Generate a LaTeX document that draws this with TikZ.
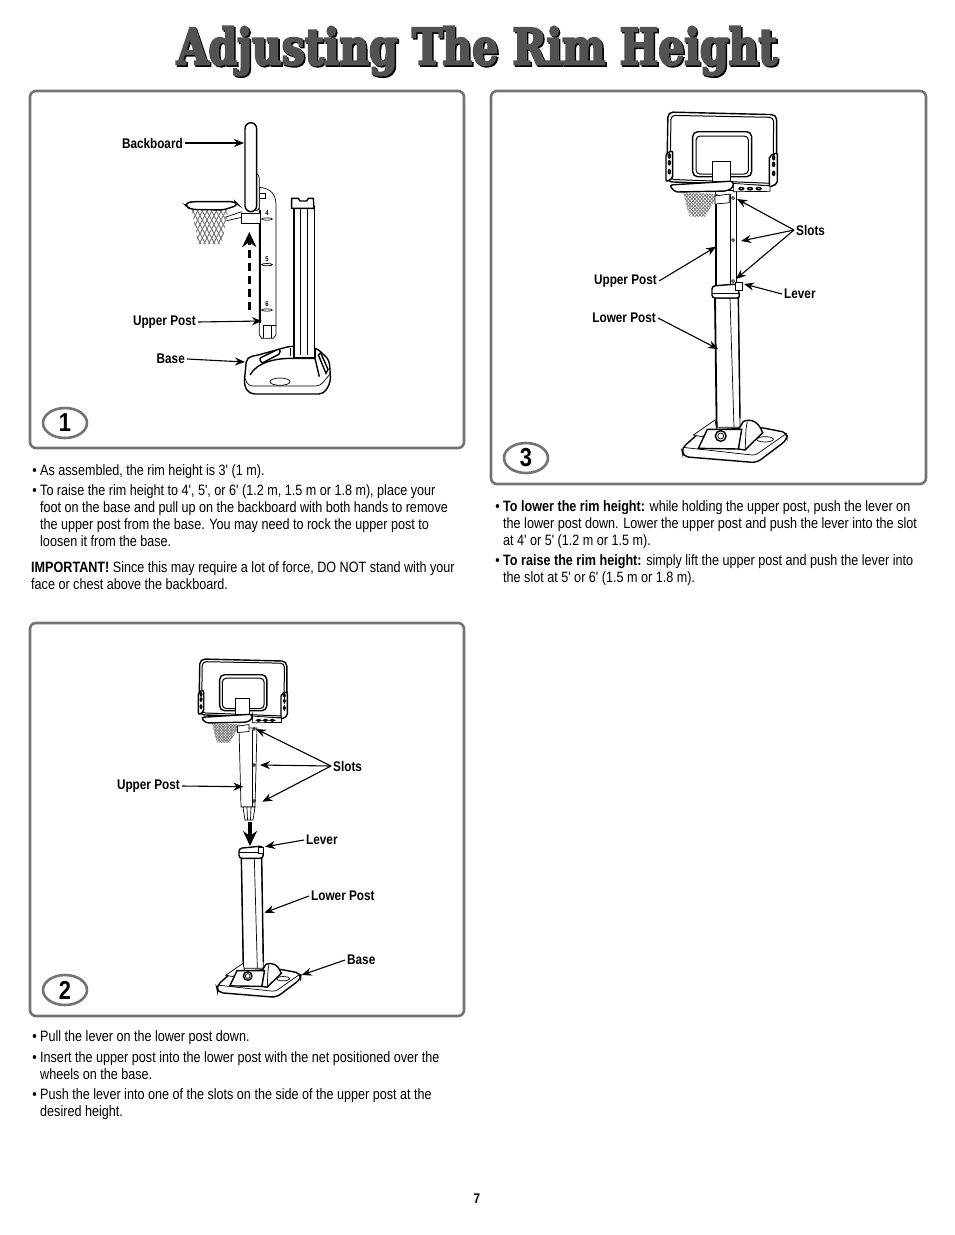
\documentclass[tikz,border=0pt]{standalone}
\usepackage{fontspec}
\usetikzlibrary{arrows.meta,shapes.geometric}
\setmainfont[FakeStretch=0.84,Ligatures=TeXOff]{Liberation Sans}
\newfontfamily\titlefont[FakeStretch=0.819,FakeBold=4]{DejaVu Serif Bold}
\newcommand{\bodysize}{\fontsize{15}{17}\selectfont}
\newcommand{\bul}{\llap{\textbullet\ }}

\tikzset{
    pen/.style={line width=0.7pt, black},
    heavy/.style={line width=1.4pt, black},
    netline/.style={line width=0.7pt, black!55},
    panel/.style={line width=2.6pt, black!55, rounded corners=6pt},
    callout/.style={line width=1.1pt, -{Stealth[length=10pt,width=8pt]}},
    bigarrow/.style={line width=3.4pt, -{Stealth[length=15pt,width=14pt]}},
    partlabel/.style={font=\bfseries\fontsize{14}{15}\selectfont, inner sep=2pt},
    bodytext/.style={anchor=north west, align=left, inner sep=0pt, font=\bodysize},
    stepnum/.style={ellipse, draw=black!55, line width=2.6pt, minimum width=44pt, minimum height=30pt,
        inner sep=0pt, font=\bfseries\fontsize{26}{26}\selectfont},
    pics/hoopfront/.style={code={
        \begin{scope}[shift={(-213,-215)}]
            % net
            \begin{scope}
                \clip (100,278) -- (205,282) -- (165,350) -- (118,350) -- cycle;
                \foreach \k in {60,70,...,300} {
                    \draw[netline] (\k,270) -- (\k+80,355);
                    \draw[netline] (\k,270) -- (\k-80,355);
                }
            \end{scope}
            % backboard
            \draw[heavy, fill=white, rounded corners=5pt] (54,36) -- (380,44) -- (380,258) -- (50,245) -- cycle;
            \draw[pen, line width=1pt, rounded corners=4pt] (63,46) -- (371,52) -- (369,250) -- (60,238) -- cycle;
            \draw[heavy, rounded corners=5pt] (128,95) rectangle (305,230);
            \draw[pen, line width=1pt, rounded corners=4pt] (138,108) rectangle (295,222);
            % side brackets
            \draw[heavy, fill=white, rounded corners=2pt] (48,160) -- (68,152) -- (68,235) -- (48,245) -- cycle;
            \draw[heavy, fill=white, rounded corners=2pt] (358,168) -- (382,158) -- (382,250) -- (358,262) -- cycle;
            \foreach \k in {168,188,215} {
                \draw[heavy] (58,\k) ellipse (3 and 6);
                \draw[heavy] (371,\k+5) ellipse (3 and 6);
            }
            % lower edge with small holes
            \draw[pen, fill=white] (250,250) -- (360,258) -- (360,274) -- (250,275) -- cycle;
            \foreach \k in {274,300,326} \draw[heavy] (\k,266) ellipse (7 and 3.5);
            % rim and bracket
            \draw[pen, fill=white] (187,185) rectangle (240,245);
            \draw[heavy, fill=white, rounded corners=3pt] (58,255) -- (250,243) -- (250,262) -- (230,273) -- (75,276) -- cycle;
            \draw[pen, fill=white] (195,288) -- (238,282) -- (238,308) -- (195,312) -- cycle;
        \end{scope}
    }},
    pics/basefront/.style={code={
        \begin{scope}[shift={(-182,-498)}]
            \draw[heavy, fill=white, rounded corners=5pt] (65,535) -- (125,482) -- (300,472) -- (382,488) -- (380,510) -- (290,578) -- (70,560) -- cycle;
            \draw[pen, rounded corners=3pt] (68,532) -- (285,556) -- (380,490);
            % side wings
            \draw[pen, fill=white] (100,495) -- (165,450) -- (170,480) -- (125,500) -- cycle;
            \draw[heavy, fill=white] (235,480) -- (250,454) .. controls (275,445) and (295,455) .. (308,488) -- (255,540) -- (235,537) -- cycle;
            \draw[pen] (262,455) .. controls (255,480) and (258,510) .. (255,540);
            % front face
            \draw[heavy, fill=white] (115,535) -- (142,478) -- (245,478) -- (235,537) -- cycle;
            \draw[heavy] (182,498) circle (16);
            \draw[pen] (182,498) circle (9);
            \draw[pen] (315,508) ellipse (25 and 8);
        \end{scope}
    }}
}

\begin{document}
\begin{tikzpicture}[x=1pt, y=-1pt]
\useasboundingbox (0,0) rectangle (954,1235);

% Title
\node[font=\titlefont\fontsize{50}{50}\selectfont, black] (titleback) at (478.5,52.5) {Adjusting The Rim Height};
\node[font=\titlefont\fontsize{50}{50}\selectfont, black!68] (title) at (477,51) {Adjusting The Rim Height};

% Panel frames
\draw[panel] (30,91) rectangle (464,448);
\draw[panel] (491,91) rectangle (926,484);
\draw[panel] (30,623) rectangle (464,1016);
\node[stepnum] (one) at (65,423) {1};
\node[stepnum] (two) at (65,990) {2};
\node[stepnum] (three) at (526,458) {3};

% Panel 1: side view
\begin{scope}[shift={(170,110)}, scale=1/3]
    % net and rim
    \begin{scope}
        \clip (65,298) -- (175,298) -- (155,402) -- (85,402) -- cycle;
        \foreach \k in {20,34,...,230} {
            \draw[netline, line width=0.9pt] (\k,290) -- (\k+60,405);
            \draw[netline, line width=0.9pt] (\k,290) -- (\k-60,405);
        }
    \end{scope}
    \draw[heavy, fill=white, rounded corners=4pt] (43,282) -- (65,275) -- (195,275) -- (205,285) -- (160,300) -- (60,298) -- cycle;
    \draw[pen] (165,322) -- (215,305);
    \draw[pen] (170,332) -- (215,322);
    % upper post
    \draw[pen, fill=white] (268,232) .. controls (300,235) and (318,250) .. (318,285) -- (318,675) -- (310,685) -- (275,685) -- (268,675) -- cycle;
    \draw[heavy, line width=1.8pt] (270,300) -- (270,640);
    \draw[pen] (280,645) -- (318,645);
    \draw[pen] (280,645) -- (280,685);
    \draw[pen] (305,645) -- (305,685);
    \draw[pen, fill=white] (268,250) rectangle (285,265);
    \foreach \n/\k in {4/310,5/447,6/583} {
        \node[font=\bfseries\fontsize{7}{7}\selectfont, inner sep=0pt] (slot\n) at (291,\k) {\n};
        \draw[pen] (291,\k+17) ellipse (16 and 3.5);
    }
    % bracket and backboard
    \draw[pen, fill=white] (215,310) -- (270,310) -- (270,340) -- (215,340) -- cycle;
    \draw[pen, fill=white, rounded corners=3pt] (250,185) -- (268,195) -- (268,300) -- (250,305) -- cycle;
    \draw[heavy, fill=white, rounded corners=6pt] (225,38) rectangle (260,305);
    % base
    \draw[heavy, fill=white, rounded corners=5pt] (230,742) -- (265,735) -- (362,708) -- (440,714) -- (478,750) -- (482,815) -- (462,852) -- (238,852) -- (222,825) -- cycle;
    \draw[pen, rounded corners=4pt] (222,798) -- (235,828) -- (450,828) -- (480,792);
    \draw[heavy] (240,795) .. controls (262,755) and (320,745) .. (365,745) -- (435,745) -- (448,800);
    \draw[heavy, fill=white, rounded corners=2pt] (268,745) -- (328,716) -- (332,730) -- (275,760) -- cycle;
    \draw[heavy, fill=white] (445,735) -- (452,728) -- (474,778) -- (468,790) -- cycle;
    \draw[pen] (330,815) ellipse (30 and 11);
    % lower post
    \draw[pen, fill=white] (370,290) rectangle (432,742);
    \draw[heavy, line width=1.8pt] (372,295) -- (372,740);
    \draw[line width=0.4pt] (390,295) -- (390,735);
    \draw[line width=0.4pt] (412,295) -- (412,735);
    \draw[heavy, fill=white] (365,265) -- (385,265) -- (390,273) -- (410,273) -- (415,265) -- (430,265) -- (432,295) -- (365,295) -- cycle;
    \draw[heavy] (362,715) -- (362,738);
    \draw[heavy] (436,715) -- (436,745);
\end{scope}

\coordinate (tailone) at (249.3,310);
\coordinate (headone) at (249.3,232);
\draw[bigarrow, dash pattern=on 8pt off 5pt] (tailone) -- (headone);

\node[partlabel, anchor=east] (backboard) at (185,143) {Backboard};
\node[partlabel, anchor=east] (upperone) at (198,322) {Upper Post};
\node[partlabel, anchor=east] (baseone) at (187,359) {Base};
\coordinate (tipbackboard) at (244,143);
\coordinate (tipupperone) at (262,321);
\coordinate (tipbaseone) at (245,362);
\draw[callout] (backboard.east) -- (tipbackboard);
\draw[callout] (upperone.east) -- (tipupperone);
\draw[callout] (baseone.east) -- (tipbaseone);

% Panel 3: post fitted together
\begin{scope}[shift={(660,270)}, scale=1/3]
    % lower post and collar
    \draw[pen, fill=white] (165,85) -- (170,472) -- (240,472) -- (235,85) -- cycle;
    \draw[heavy, line width=1.8pt] (165,85) -- (170,472);
    \draw[pen] (210,85) -- (222,472);
    \draw[heavy] (235,85) -- (240,445);
\end{scope}
\draw[pen, fill=white] (715.7,190) rectangle (736,285);
\draw[heavy, line width=1.8pt] (716,194) -- (716,285);
\draw[pen] (730,194) -- (730,285);
\foreach \k in {198,240,281} \draw[pen] (733,\k) circle (1.5);
\draw[heavy, fill=white, rounded corners=3pt] (712,286) -- (737,284) -- (740,298) -- (712,298) -- cycle;
\draw[pen] (712,293) -- (740,293);
\draw[pen, fill=white] (735,282) rectangle (742,290);
\pic[scale=1/3] at (721,171.7) {hoopfront};
\pic[scale=1/3] at (720.7,436) {basefront};

\node[partlabel, anchor=west] (slotsthree) at (794,230) {Slots};
\node[partlabel, anchor=west] (leverthree) at (782,294) {Lever};
\node[partlabel, anchor=east] (upperthree) at (659,281) {Upper Post};
\node[partlabel, anchor=east] (lowerthree) at (658,318) {Lower Post};
\coordinate (tipa) at (737,199);
\coordinate (tipb) at (741,241);
\coordinate (tipc) at (736,279);
\coordinate (tipleverthree) at (744,284);
\coordinate (tipupperthree) at (716,246.7);
\coordinate (tiplowerthree) at (718,349);
\foreach \t in {tipa,tipb,tipc} \draw[callout] (slotsthree.west) -- (\t);
\draw[callout] (leverthree.west) -- (tipleverthree);
\draw[callout] (upperthree.east) -- (tipupperthree);
\draw[callout] (lowerthree.east) -- (tiplowerthree);

% Panel 2: posts apart
\draw[pen, fill=white] (239,728) -- (241,807) -- (255,807) -- (257,728) -- cycle;
\draw[pen] (252,730) -- (252,807);
\foreach \k in {729,765,801} \draw[pen] (254,\k) circle (1.3);
\draw[pen, fill=white] (243,807) -- (245,820) -- (253,820) -- (255,807) -- cycle;
\draw[pen] (247,807) -- (247.5,820);
\draw[pen] (251,807) -- (250.5,820);
\pic[scale=0.8/3] at (242.3,706.7) {hoopfront};

\coordinate (tailtwo) at (250,822);
\coordinate (headtwo) at (250,846);
\draw[bigarrow] (tailtwo) -- (headtwo);

\begin{scope}[shift={(200,830)}, scale=1/3]
    \draw[pen, fill=white] (124,85) -- (130,415) -- (190,415) -- (185,85) -- cycle;
    \draw[heavy] (124,85) -- (130,415);
    \draw[pen] (163,85) -- (172,415);
    \draw[heavy] (185,85) -- (190,395);
    \draw[heavy, fill=white, rounded corners=3pt] (117,55) -- (188,48) -- (190,85) -- (117,85) -- cycle;
    \draw[pen] (117,68) -- (188,68);
    \draw[pen, fill=white] (175,52) rectangle (190,70);
\end{scope}
\pic[scale=0.8/3] at (247.7,976) {basefront};

\node[partlabel, anchor=west] (slotstwo) at (331,766) {Slots};
\node[partlabel, anchor=east] (uppertwo) at (182,786) {Upper Post};
\node[partlabel, anchor=west] (levertwo) at (304,840) {Lever};
\node[partlabel, anchor=west] (lowertwo) at (309,896) {Lower Post};
\node[partlabel, anchor=west] (basetwo) at (345,960) {Base};
\coordinate (tipd) at (256,729);
\coordinate (tipe) at (260,765);
\coordinate (tipf) at (262.3,801.7);
\coordinate (tipuppertwo) at (243.3,786.7);
\coordinate (tiplevertwo) at (265,846.7);
\coordinate (tiplowertwo) at (264.3,912.7);
\coordinate (tipbasetwo) at (301.7,975);
\foreach \t in {tipd,tipe,tipf} \draw[callout] (slotstwo.west) -- (\t);
\draw[callout] (uppertwo.east) -- (tipuppertwo);
\draw[callout] (levertwo.west) -- (tiplevertwo);
\draw[callout] (lowertwo.west) -- (tiplowertwo);
\draw[callout] (basetwo.west) -- (tipbasetwo);

% Instructions
\node[bodytext] (textone) at (40,464) {\bul As assembled, the rim height is 3' (1 m).};
\node[bodytext] (texttwo) at (40,484) {\bul To raise the rim height to 4', 5', or 6' (1.2 m, 1.5 m or 1.8 m), place your\\
    foot on the base and pull up on the backboard with both hands to remove\\
    the upper post from the base. You may need to rock the upper post to\\
    loosen it from the base.};
\node[bodytext] (textthree) at (31,561) {\textbf{IMPORTANT!} Since this may require a lot of force, DO NOT stand with your\\
    face or chest above the backboard.};
\node[bodytext] (textfour) at (40,1030) {\bul Pull the lever on the lower post down.};
\node[bodytext] (textfive) at (40,1051) {\bul Insert the upper post into the lower post with the net positioned over the\\
    wheels on the base.};
\node[bodytext] (textsix) at (40,1088) {\bul Push the lever into one of the slots on the side of the upper post at the\\
    desired height.};
\node[bodytext] (textseven) at (503,500) {\bul\textbf{To lower the rim height:} while holding the upper post, push the lever on\\
    the lower post down. Lower the upper post and push the lever into the slot\\
    at 4' or 5' (1.2 m or 1.5 m).};
\node[bodytext] (texteight) at (503,554) {\bul\textbf{To raise the rim height:} simply lift the upper post and push the lever into\\
    the slot at 5' or 6' (1.5 m or 1.8 m).};
\node[font=\bfseries\fontsize{14}{14}\selectfont] (pagenum) at (477,1199) {7};

\end{tikzpicture}
\end{document}
